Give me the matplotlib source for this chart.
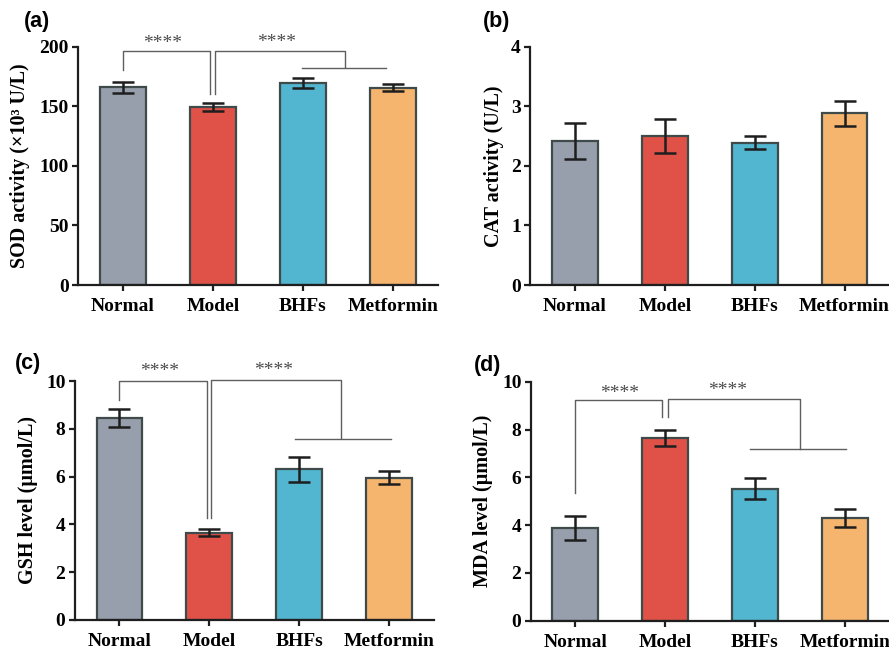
import matplotlib
matplotlib.use("Agg")
import matplotlib.pyplot as plt

categories = ["Normal", "Model", "BHFs", "Metformin"]
colors = ["#989FAC", "#E05247", "#52B6D0", "#F5B56F"]

sod_mean = [165.8, 149.5, 169.0, 165.6]
sod_err = [4.5, 3.4, 4.2, 3.0]
cat_mean = [2.42, 2.50, 2.39, 2.88]
cat_err = [0.30, 0.28, 0.11, 0.21]
gsh_mean = [8.45, 3.65, 6.30, 5.96]
gsh_err = [0.38, 0.14, 0.52, 0.27]
mda_mean = [3.88, 7.65, 5.53, 4.29]
mda_err = [0.50, 0.33, 0.45, 0.38]

ylabels = ["SOD activity (×10³ U/L)", "CAT activity (U/L)",
           "GSH level (μmol/L)", "MDA level (μmol/L)"]
yticks = [[0, 50, 100, 150, 200], [0, 1, 2, 3, 4],
          [0, 2, 4, 6, 8, 10], [0, 2, 4, 6, 8, 10]]
panel_labels = ["(a)", "(b)", "(c)", "(d)"]

W, H = 889, 653
fig = plt.figure(figsize=(W / 100, H / 100), dpi=100)

def px_axes(left, bottom, right, top):
    return fig.add_axes([left / W, 1 - bottom / H, (right - left) / W, (bottom - top) / H])

axes = [
    px_axes(78, 285, 438, 46.5),
    px_axes(530, 285, 889.5, 46.7),
    px_axes(74.5, 620, 434, 381),
    px_axes(530.5, 620.7, 889.5, 381.7),
]
label_x = [-0.161, -0.10, -0.128, -0.131]
means = [sod_mean, cat_mean, gsh_mean, mda_mean]
errs = [sod_err, cat_err, gsh_err, mda_err]

serif = "Liberation Serif"
x = list(range(len(categories)))
for i, ax in enumerate(axes):
    ax.bar(x, means[i], width=0.51, color=colors, edgecolor="#3F4A4A",
           linewidth=1.6, zorder=2)
    ax.errorbar(x, means[i], yerr=errs[i], fmt="none", ecolor="#1E1E1E",
                elinewidth=1.8, capsize=8, capthick=1.8, zorder=3)
    ax.set_xlim(-0.5, 3.5)
    ax.set_ylim(yticks[i][0], yticks[i][-1])
    ax.set_yticks(yticks[i])
    ax.set_xticks(x)
    ax.set_xticklabels(categories, fontfamily=serif, fontweight="bold", fontsize=14)
    for t in ax.get_yticklabels():
        t.set_fontfamily(serif)
        t.set_fontweight("bold")
        t.set_fontsize(14)
    for s in ["top", "right"]:
        ax.spines[s].set_visible(False)
    for s in ["left", "bottom"]:
        ax.spines[s].set_linewidth(1.6)
        ax.spines[s].set_color("#1E1E1E")
    ax.tick_params(axis="both", direction="out", length=4.5, width=1.6,
                   color="#1E1E1E", pad=2)
    ax.tick_params(axis="x", pad=5)
    ax.set_ylabel(ylabels[i], fontfamily=serif, fontweight="bold", fontsize=14.5)
    ax.yaxis.set_label_coords(label_x[i], 0.5)
    ax.yaxis.label.set_va("center")

pl_pos = [(37, 21), (497, 21), (28, 364), (488, 365)]
for (px, py), t in zip(pl_pos, panel_labels):
    fig.text(px / W, 1 - py / H, t, fontfamily="Liberation Sans", fontweight="bold",
             fontsize=15.5, ha="center", va="center")

bc = "#5E5E5E"
def bracket(ax, pts, lw=1.0):
    xs, ys = zip(*pts)
    ax.plot(xs, ys, color=bc, lw=lw, clip_on=False, zorder=4)

def stars(ax, xx, yy):
    ax.text(xx, yy, "****", fontfamily=serif, fontsize=14, color="#4A4A4A",
            ha="center", va="baseline")

# (a)
ax = axes[0]
bracket(ax, [(0, 180), (0, 196), (0.97, 196), (0.97, 160.4)])
bracket(ax, [(1.02, 160.4), (1.02, 196), (2.47, 196), (2.47, 182.5)])
bracket(ax, [(1.99, 181.8), (2.92, 181.8)])
stars(ax, 0.44, 199)
stars(ax, 1.71, 199.5)

# (c)
ax = axes[2]
bracket(ax, [(0, 9.22), (0, 10.0), (0.97, 10.0), (0.97, 4.25)])
bracket(ax, [(1.02, 4.25), (1.02, 10.04), (2.46, 10.04), (2.46, 7.62)])
bracket(ax, [(1.95, 7.59), (3.02, 7.59)])
stars(ax, 0.445, 10.2)
stars(ax, 1.71, 10.25)

# (d)
ax = axes[3]
bracket(ax, [(0, 5.36), (0, 9.25), (0.96, 9.25), (0.96, 8.54)])
bracket(ax, [(1.03, 8.54), (1.03, 9.28), (2.5, 9.28), (2.5, 7.2)])
bracket(ax, [(1.95, 7.17), (3.01, 7.17)])
stars(ax, 0.49, 9.33)
stars(ax, 1.69, 9.43)

fig.savefig("out.png", dpi=100)
